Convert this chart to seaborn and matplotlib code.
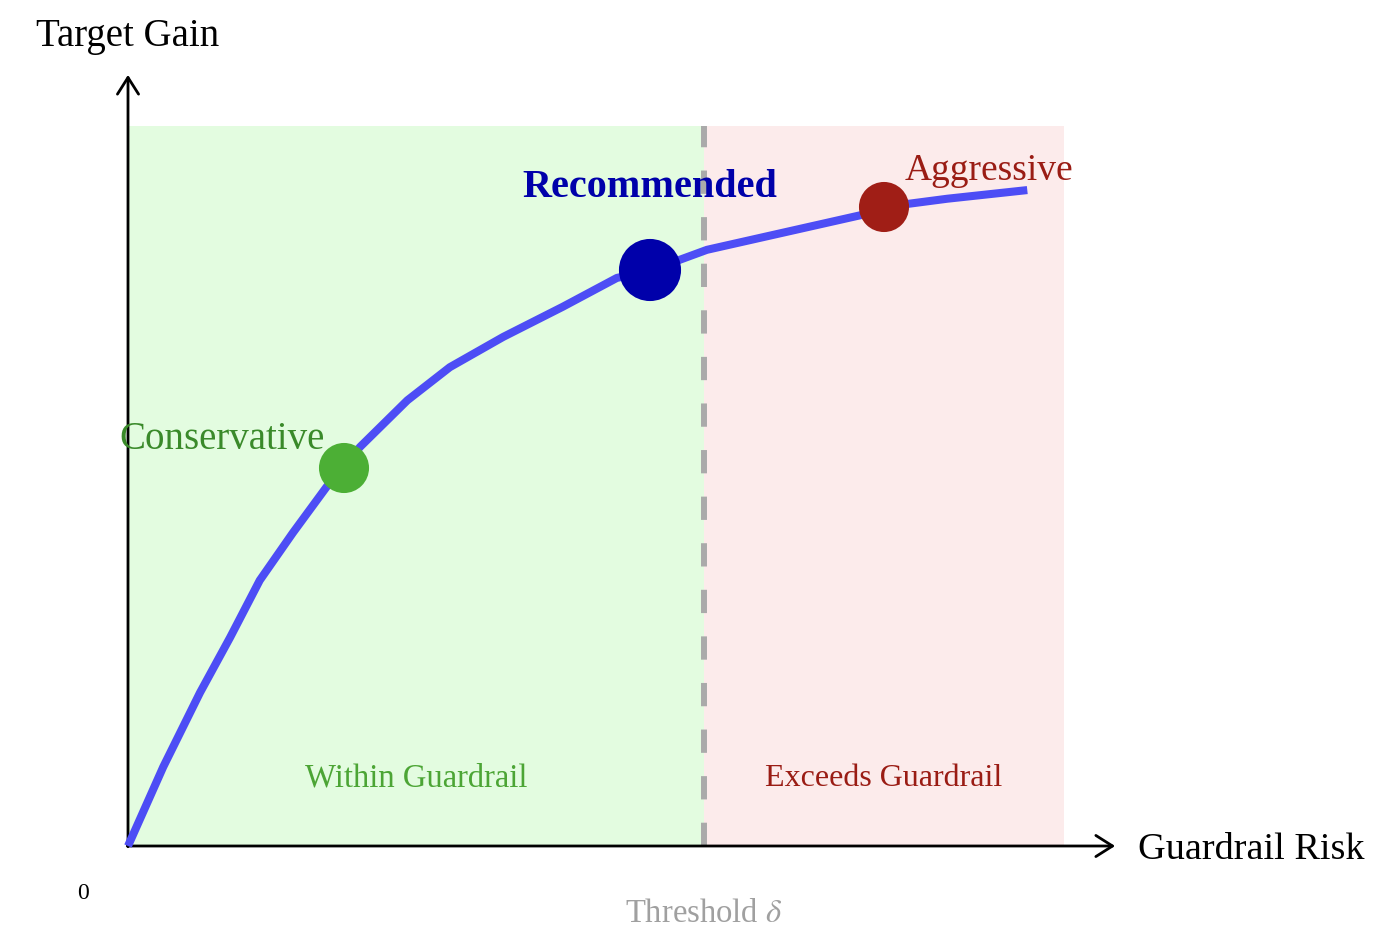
import matplotlib
matplotlib.use("Agg")
import matplotlib.pyplot as plt
import seaborn as sns
import pandas as pd

# frontier curve (risk, gain)
risk = [0.0, 0.49, 1.00, 1.42, 1.83, 2.29, 2.76, 3.00, 3.22, 3.88, 4.47, 5.21,
        6.04, 6.79, 7.25, 8.04, 9.06, 10.17, 10.50, 11.38, 12.49]
gain = [0.0, 1.10, 2.13, 2.90, 3.69, 4.35, 4.99, 5.25, 5.54, 6.19, 6.65, 7.07,
        7.49, 7.89, 7.99, 8.28, 8.51, 8.76, 8.875, 8.99, 9.11]

# highlighted operating points
point_names = ["Conservative", "Recommended", "Aggressive"]
point_risk = [3.0, 7.25, 10.5]
point_gain = [5.25, 8.0, 8.875]

threshold = 8.0
risk_max = 13.0
gain_max = 10.0

sns.set_style("white")
plt.rcParams["font.family"] = ["Liberation Serif", "DejaVu Serif"]
plt.rcParams["mathtext.fontset"] = "stix"
plt.rcParams["text.color"] = "black"

fig = plt.figure(figsize=(13.74, 9.4), dpi=100)
ax = fig.add_axes([0, 0, 1, 1])
xlim = (-128 / 72, (1374 - 128) / 72)
ylim = (-94 / 72, 846 / 72)
ax.axis("off")

# shaded regions
ax.fill_between([0, threshold], 0, gain_max, color="#e3fce0", lw=0, zorder=0)
ax.fill_between([threshold, risk_max], 0, gain_max, color="#fcebeb", lw=0, zorder=0)

# threshold line
ax.plot([threshold, threshold], [0, gain_max], color="#aaaaaa", lw=4.3,
        dashes=(3.9, 3.9), dash_capstyle="butt", zorder=1)

# axes arrows
arrow = dict(arrowstyle="->,head_length=0.6,head_width=0.38", color="black",
             lw=2.0, mutation_scale=20, shrinkA=0, shrinkB=0)
ax.annotate("", xy=(13.71, 0), xytext=(-0.01, 0), arrowprops=arrow, zorder=2)
ax.annotate("", xy=(0, 10.71), xytext=(0, -0.01), arrowprops=arrow, zorder=2)

# curve
curve = pd.DataFrame({"risk": risk, "gain": gain})
sns.lineplot(data=curve, x="risk", y="gain", ax=ax, color="#4d4df5", lw=5.8,
             sort=False, solid_joinstyle="round", solid_capstyle="butt",
             zorder=3)

pts = pd.DataFrame({"name": point_names, "risk": point_risk, "gain": point_gain})
sns.scatterplot(data=pts, x="risk", y="gain", hue="name", size="name",
                palette={"Conservative": "#4caf35", "Recommended": "#0000aa",
                         "Aggressive": "#a01e16"},
                sizes={"Conservative": 1300, "Recommended": 2000,
                       "Aggressive": 1300},
                linewidth=0, legend=False, ax=ax, zorder=4)
ax.set_xlim(*xlim)
ax.set_ylim(*ylim)

# labels
ax.text(0, 11.245, "Target Gain", ha="center", va="center", fontsize=28)
ax.text(14.03, -0.055, "Guardrail Risk", ha="left", va="center", fontsize=27.5)
ax.text(-0.62, -0.665, "0", ha="center", va="center", fontsize=17)
ax.text(threshold, -0.935, r"Threshold $\delta$", ha="center", va="center",
        fontsize=23.5, color="#a0a0a0")
ax.text(4.0, 0.94, "Within Guardrail", ha="center", va="center", fontsize=23.5,
        color="#4ca535")
ax.text(10.5, 0.94, "Exceeds Guardrail", ha="center", va="center", fontsize=23,
        color="#9a1c14")
ax.text(1.3, 5.645, "Conservative", ha="center", va="center", fontsize=28,
        color="#3a8a2a")
ax.text(7.25, 9.145, "Recommended", ha="center", va="center", fontsize=29,
        color="#0000aa", fontweight="bold")
ax.text(11.96, 9.375, "Aggressive", ha="center", va="center", fontsize=27,
        color="#9a1c14")

fig.savefig("out.png", dpi=100)
